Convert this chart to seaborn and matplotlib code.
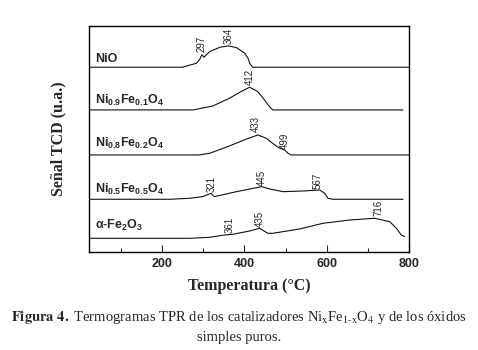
import pandas as pd
import matplotlib.pyplot as plt
import seaborn as sns

sns.set_style("ticks")
plt.rcParams['mathtext.fontset'] = 'custom'
plt.rcParams['mathtext.rm'] = 'Liberation Sans:bold'
plt.rcParams['mathtext.it'] = 'Liberation Sans:bold'
plt.rcParams['mathtext.bf'] = 'Liberation Sans:bold'

# -----------------------------
# Data, signal in arbitrary units above each baseline
# -----------------------------
samples = ["NiO", "Ni0.9Fe0.1O4", "Ni0.8Fe0.2O4", "Ni0.5Fe0.5O4", "a-Fe2O3"]
sample_labels = ["NiO",
                 "Ni$_{0.9}$Fe$_{0.1}$O$_4$",
                 "Ni$_{0.8}$Fe$_{0.2}$O$_4$",
                 "Ni$_{0.5}$Fe$_{0.5}$O$_4$",
                 "α-Fe$_2$O$_3$"]

temp_nio = [25, 250, 284, 292, 297, 302, 316, 341, 362, 381, 401, 409, 413, 420, 800]
sig_nio = [0, 0, 4, 8, 12.5, 10, 15.6, 20, 21.3, 19.6, 14, 9, 4, 0, 0]

temp_ni09 = [25, 276, 324, 364, 392, 413, 433, 449, 461, 469, 785]
sig_ni09 = [0, 0, 4, 11.7, 18.3, 22.7, 18.3, 10, 3.3, 0, 0]

temp_ni08 = [25, 290, 316, 364, 404, 433, 453, 474, 486, 498, 506, 514, 800]
sig_ni08 = [0, 0, 1.7, 9, 15.7, 20, 16.7, 10, 6.7, 5, 1.7, 0, 0]

temp_ni05 = [25, 219, 268, 299, 319, 327, 381, 442, 462, 494, 543, 583, 595, 603, 615, 785]
sig_ni05 = [0, 0, 1, 2.6, 6, 2.6, 7.6, 12.6, 10.3, 7.6, 8.3, 9.3, 6, 1, 0, 0]

temp_fe = [25, 268, 316, 352, 372, 413, 437, 457, 469, 534, 591, 656, 716, 753, 769, 781, 789]
sig_fe = [0, 0, 1, 3.3, 4, 7.3, 10, 5, 5, 9.3, 15, 18.3, 20, 16.6, 10, 3.3, 1.6]

# peak labels: (temperature, text, height of label base)
peaks_nio = [(296, "297", 14.3), (361, "364", 22.3)]
peaks_ni09 = [(413, "412", 24)]
peaks_ni08 = [(429, "433", 22), (498, "499", 5)]
peaks_ni05 = [(321, "321", 6.3), (442, "445", 12.3), (578, "567", 9.3)]
peaks_fe = [(365, "361", 4.3), (437, "435", 10.3), (726, "716", 21.3)]

temps = [temp_nio, temp_ni09, temp_ni08, temp_ni05, temp_fe]
signals = [sig_nio, sig_ni09, sig_ni08, sig_ni05, sig_fe]
peaks = [peaks_nio, peaks_ni09, peaks_ni08, peaks_ni05, peaks_fe]

# vertical stacking of the curves
offsets = [184.7, 142, 97, 52.7, 13.7]
label_dy = [5, 6, 7.7, 6.6, 9]

rows = []
for name, t, s, off in zip(samples, temps, signals, offsets):
    for ti, si in zip(t, s):
        rows.append({"sample": name, "temp": ti, "y": si + off})
df = pd.DataFrame(rows)

# -----------------------------
# Plot
# -----------------------------
fig = plt.figure(figsize=(4.78, 3.5), dpi=100)
ax = fig.add_axes([0.186, 0.28, 0.67, 0.646])

sns.lineplot(data=df, x="temp", y="y", units="sample", estimator=None,
             color="#111111", linewidth=0.8, sort=False, ax=ax, legend=False)

for lab, off, dy in zip(sample_labels, offsets, label_dy):
    ax.text(37, off + dy, lab, fontsize=9, fontweight="bold",
            family="Liberation Sans", va="baseline", ha="left")

for pk, off in zip(peaks, offsets):
    for t, txt, h in pk:
        ax.text(t, off + h + 0.5, txt, rotation=90, fontsize=7,
                family="Liberation Sans", ha="center", va="bottom")

ax.set_xlim(23, 800)
ax.set_ylim(0, 226)
ax.set_yticks([])
ax.set_xticks([200, 400, 600, 800])
ax.set_xticks([100, 300, 500, 700], minor=True)
ax.tick_params(axis="x", which="major", direction="in", length=5, width=0.8, pad=4)
ax.tick_params(axis="x", which="minor", direction="in", length=3, width=0.8)
for lbl in ax.get_xticklabels():
    lbl.set_fontfamily("Liberation Sans")
    lbl.set_fontweight("bold")
    lbl.set_fontsize(9)
for sp in ax.spines.values():
    sp.set_visible(True)
    sp.set_linewidth(1.0)
    sp.set_color("black")

ax.set_xlabel("Temperatura (°C)", family="Liberation Serif", fontweight="bold",
              fontsize=11.5, labelpad=6)
ax.set_ylabel("Señal TCD (u.a.)", family="Liberation Serif", fontweight="bold",
              fontsize=11.5, labelpad=16)

fig.text(0.5, 1 - 317 / 350,
         r"$\mathbf{Figura\ 4.}$ Termogramas TPR de los catalizadores "
         r"Ni$_\mathrm{x}$Fe$_{\mathrm{1\text{-}x}}$O$_4$ y de los óxidos",
         family="Liberation Serif", fontsize=10.5, math_fontfamily="stix",
         ha="center", va="center")
fig.text(0.5, 1 - 337 / 350, "simples puros.", family="Liberation Serif",
         fontsize=10.5, ha="center", va="center")

fig.savefig("out.png", dpi=100)
